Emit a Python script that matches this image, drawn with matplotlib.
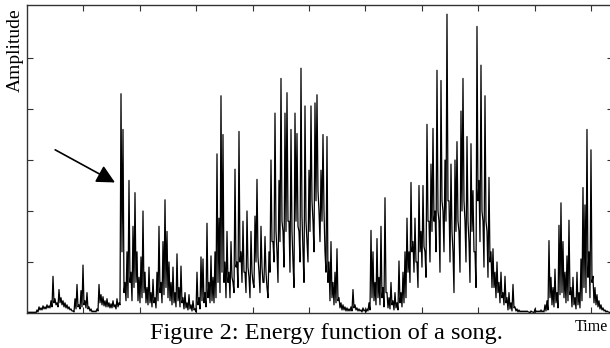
import matplotlib
matplotlib.use("Agg")
import matplotlib.pyplot as plt
import numpy as np

# energy peaks, one sample every ~0.0355 time units
energy = [
    1, 1, 1, 1, 1, 3, 6, 5, 7, 6,
    8, 7, 12, 36, 14, 10, 23, 15, 12, 10,
    8, 6, 4, 2, 14, 28, 8, 22, 47, 12,
    20, 6, 4, 2, 2, 4, 28, 18, 16, 12,
    14, 10, 9, 12, 8, 14, 10, 215, 180, 30,
    60, 130, 40, 85, 118, 60, 35, 55, 100, 40,
    25, 45, 20, 33, 15, 40, 85, 30, 70, 111,
    80, 50, 30, 45, 20, 58, 25, 46, 15, 20,
    10, 18, 8, 12, 4, 40, 15, 55, 53, 20,
    88, 30, 56, 35, 60, 156, 93, 213, 175, 50,
    80, 40, 70, 30, 141, 50, 178, 60, 90, 40,
    100, 35, 80, 30, 95, 131, 40, 85, 30, 75,
    25, 60, 150, 70, 196, 60, 130, 230, 80, 196,
    216, 90, 180, 50, 196, 176, 80, 240, 60, 203,
    70, 140, 203, 90, 206, 214, 100, 140, 175, 60,
    173, 50, 70, 30, 40, 63, 15, 10, 8, 6,
    5, 4, 6, 23, 8, 5, 4, 3, 5, 3,
    4, 10, 81, 60, 30, 73, 35, 85, 25, 113,
    20, 15, 30, 12, 20, 10, 51, 20, 40, 60,
    93, 60, 128, 70, 93, 50, 125, 80, 125, 60,
    185, 90, 146, 181, 100, 238, 90, 228, 100, 150,
    293, 110, 146, 60, 150, 168, 80, 198, 230, 90,
    173, 70, 166, 120, 60, 281, 130, 243, 90, 213,
    80, 133, 60, 63, 40, 50, 30, 40, 20, 36,
    15, 20, 10, 28, 6, 4, 3, 2, 2, 2,
    2, 1, 2, 1, 4, 2, 2, 3, 2, 8,
    12, 71, 35, 25, 43, 20, 86, 108, 70, 40,
    56, 91, 25, 35, 15, 40, 20, 53, 123, 106,
    180, 60, 160, 36, 25, 18, 12, 8, 5, 3,
    2, 1,
]

# troughs between the samples above (lower edge of the black band)
troughs = [
    0, 0, 0, 0, 0, 1, 3, 3, 4, 4,
    5, 5, 6, 10, 8, 6, 10, 8, 6, 5,
    4, 3, 2, 1, 4, 6, 4, 6, 8, 5,
    4, 2, 1, 1, 1, 2, 10, 8, 7, 6,
    6, 5, 5, 6, 4, 6, 8, 60, 20, 12,
    15, 30, 12, 25, 30, 12, 10, 15, 20, 10,
    8, 10, 6, 10, 5, 12, 20, 10, 18, 25,
    15, 12, 8, 10, 6, 12, 6, 10, 4, 5,
    3, 4, 2, 3, 1, 8, 4, 12, 10, 6,
    15, 10, 12, 10, 15, 30, 20, 40, 30, 15,
    30, 15, 35, 20, 45, 25, 50, 30, 40, 20,
    45, 15, 40, 25, 50, 55, 20, 45, 30, 40,
    15, 40, 70, 50, 80, 30, 70, 90, 45, 80,
    90, 40, 80, 25, 90, 85, 50, 95, 30, 90,
    50, 80, 110, 60, 110, 120, 70, 90, 100, 40,
    30, 12, 15, 8, 10, 12, 5, 3, 3, 2,
    2, 2, 2, 5, 3, 2, 2, 1, 2, 1,
    2, 3, 15, 12, 8, 15, 8, 15, 6, 20,
    5, 4, 8, 3, 5, 3, 10, 6, 10, 15,
    40, 30, 60, 40, 50, 25, 60, 45, 65, 35,
    90, 50, 80, 90, 60, 100, 40, 110, 60, 90,
    110, 50, 80, 20, 80, 90, 40, 100, 110, 50,
    90, 30, 80, 60, 25, 110, 70, 100, 45, 90,
    35, 50, 25, 25, 15, 20, 10, 15, 8, 10,
    3, 4, 2, 5, 2, 1, 1, 1, 1, 1,
    1, 0, 1, 0, 1, 1, 1, 1, 1, 2,
    3, 15, 8, 6, 10, 5, 18, 20, 15, 10,
    12, 18, 6, 8, 4, 8, 5, 12, 25, 20,
    35, 15, 30, 10, 8, 6, 4, 3, 2, 1,
    1, 0,
]
dt = 0.03546

n = len(energy)
time = np.arange(2 * n) * dt / 2
signal = np.empty(2 * n)
signal[0::2] = energy
signal[1::2] = troughs

fig = plt.figure(figsize=(6.1, 3.48), dpi=100)
ax = fig.add_axes([27 / 610, 35 / 348, 586 / 610, 308 / 348])

ax.plot(time, signal, color='black', lw=0.9)

ax.set_xlim(0, 586 / 56.4)
ax.set_ylim(0, 302)
ax.set_xticks(np.arange(1, 11))
ax.set_yticks([50, 100, 150, 200, 250])
ax.tick_params(direction='in', length=4, width=0.8, color='#333333',
               top=True, right=True, labelbottom=False, labelleft=False)
for s in ax.spines.values():
    s.set_color('#333333')
    s.set_linewidth(1.0)

# arrow pointing at the onset spike
ax.annotate('', xy=(1.56, 128), xytext=(0.50, 160),
            arrowprops=dict(arrowstyle='-|>,head_length=0.55,head_width=0.28',
                            mutation_scale=20, color='black', lw=1.2,
                            shrinkA=0, shrinkB=0))

fig.text(15 / 610, 1 - 50 / 348, 'Amplitude', rotation=90, ha='center', va='center',
         family='Liberation Serif', fontsize=14)
fig.text(326 / 610, 1 - 333 / 348, 'Figure 2: Energy function of a song.',
         ha='center', va='center', family='Liberation Serif', fontsize=17.5)
fig.text(591 / 610, 1 - 327 / 348, 'Time', ha='center', va='center',
         family='Liberation Serif', fontsize=11.5)

fig.savefig('out.png', dpi=100)
